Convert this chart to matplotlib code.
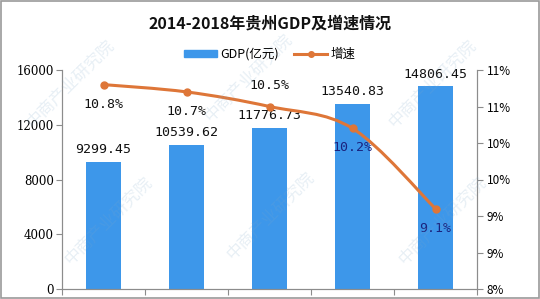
import matplotlib
matplotlib.use("Agg")
from matplotlib import pyplot as plt
from matplotlib.path import Path
from matplotlib.patches import PathPatch, Rectangle
from matplotlib.lines import Line2D

plt.rcParams['font.family'] = ['Noto Sans CJK SC', 'DejaVu Sans']

years = ['2014', '2015', '2016', '2017', '2018']
gdp = [9299.45, 10539.62, 11776.73, 13540.83, 14806.45]
growth = [10.8, 10.7, 10.5, 10.2, 9.1]
left_ticks = [0, 4000, 8000, 12000, 16000]
right_ticks = [8.0, 8.5, 9.0, 9.5, 10.0, 10.5, 11.0]
right_labels = ['8%', '9%', '9%', '10%', '10%', '11%', '11%']

bar_color = '#3D97EA'
line_color = '#DE7638'
axis_color = '#8C8C8C'

fig = plt.figure(figsize=(5.4, 2.99), dpi=100)
ax = fig.add_axes([62 / 540, 1 - 289 / 299, 415 / 540, 219 / 299])
ax2 = ax.twinx()

x = list(range(len(years)))
ax.bar(x, gdp, width=0.41, color=bar_color, zorder=2)
ax.set_xlim(-0.5, 4.5)
ax.set_ylim(0, 16000)
ax.set_yticks(left_ticks)
ax.set_yticklabels([str(t) for t in left_ticks], family='DejaVu Serif', fontsize=8.5)
ax.set_xticks([i + 0.5 for i in range(-1, len(years))])
ax.set_xticklabels([])
ax.tick_params(axis='x', length=4, color=axis_color)
ax.tick_params(axis='y', length=4, color=axis_color, pad=2)

for xi, v in zip(x, gdp):
    ax.annotate(f'{v:.2f}', (xi, v), xytext=(0, 4), textcoords='offset points',
                ha='center', va='bottom', family='DejaVu Sans Mono', fontsize=9.5,
                color='#111111')

# smoothed line (Excel style bezier through the data points)
pts = list(zip(x, growth))
verts = [pts[0]]
codes = [Path.MOVETO]
for i in range(len(pts) - 1):
    p0 = pts[i - 1] if i > 0 else pts[i]
    p1 = pts[i]
    p2 = pts[i + 1]
    p3 = pts[i + 2] if i + 2 < len(pts) else pts[i + 1]
    c1 = (p1[0] + (p2[0] - p0[0]) / 6, p1[1] + (p2[1] - p0[1]) / 6)
    c2 = (p2[0] - (p3[0] - p1[0]) / 6, p2[1] - (p3[1] - p1[1]) / 6)
    verts += [c1, c2, p2]
    codes += [Path.CURVE4] * 3
ax2.add_patch(PathPatch(Path(verts, codes), facecolor='none', edgecolor=line_color,
                        lw=2.2, zorder=3))
ax2.plot(x, growth, linestyle='none', marker='o', ms=5, color=line_color, zorder=4)
ax2.set_ylim(8, 11)
ax2.set_yticks(right_ticks)
ax2.set_yticklabels(right_labels, fontsize=8.5)
ax2.tick_params(axis='y', length=4, color=axis_color, pad=3)

offsets = [-14, -14, 15, -14, -14]
for xi, v, off in zip(x, growth, offsets):
    ax2.annotate(f'{v:.1f}%', (xi, v), xytext=(0, off), textcoords='offset points',
                 ha='center', va='center', family='DejaVu Sans Mono', fontsize=9.5,
                 color='#111111' if xi < 3 else '#1A237E')

for a in (ax, ax2):
    a.spines['top'].set_visible(False)
    for s in ('left', 'right', 'bottom'):
        a.spines[s].set_color(axis_color)
        a.spines[s].set_linewidth(0.8)

fig.text(0.5, 1 - 23 / 299, '2014-2018年贵州GDP及增速情况', ha='center', va='center',
         fontsize=11.5, fontweight='bold', color='#111111')

handles = [Rectangle((0, 0), 1, 1, color=bar_color),
           Line2D([0], [0], color=line_color, lw=2.2, marker='o', ms=4)]
fig.legend(handles, ['GDP(亿元)', '增速'], loc='center', bbox_to_anchor=(0.5, 1 - 54 / 299),
           ncol=2, frameon=False, fontsize=9, handlelength=2.6, handleheight=0.5,
           columnspacing=1.2, handletextpad=0.3)

# faint watermark, kept inside the frame
for (wx, wy) in [(0.13, 0.72), (0.46, 0.74), (0.8, 0.72),
                 (0.2, 0.26), (0.5, 0.28), (0.82, 0.26)]:
    fig.text(wx, wy, '中商产业研究院', rotation=45, ha='center', va='center',
             fontsize=12, color='#7FA8C9', alpha=0.18, zorder=0)

fig.add_artist(Rectangle((0.002, 0.002), 0.996, 0.996, transform=fig.transFigure,
                         fill=False, edgecolor='#9A9A9A', lw=1.2))

fig.savefig('out.png', dpi=100)
